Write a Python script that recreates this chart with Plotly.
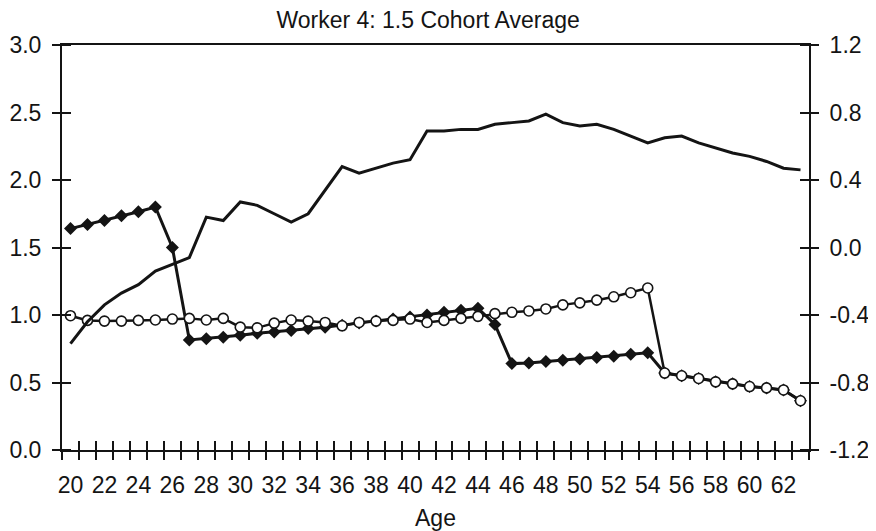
import plotly.graph_objects as go

ages = list(range(20, 64))
tick_ages = list(range(20, 63, 2))
tick_labels = [str(a) for a in tick_ages]
left_ticks = [0.0, 0.5, 1.0, 1.5, 2.0, 2.5, 3.0]
right_ticks = [-1.2, -0.8, -0.4, 0.0, 0.4, 0.8, 1.2]

# solid line (right axis)
solid = [-0.57, -0.44, -0.34, -0.27, -0.22, -0.14, -0.10, -0.06, 0.18, 0.16,
         0.27, 0.25, 0.20, 0.15, 0.20, 0.34, 0.48, 0.44, 0.47, 0.50,
         0.52, 0.69, 0.69, 0.70, 0.70, 0.73, 0.74, 0.75, 0.79, 0.74,
         0.72, 0.73, 0.70, 0.66, 0.62, 0.65, 0.66, 0.62, 0.59, 0.56,
         0.54, 0.51, 0.47, 0.46]

# open circles (left axis)
circles = [0.995, 0.96, 0.955, 0.955, 0.96, 0.963, 0.97, 0.975, 0.963, 0.975,
           0.91, 0.905, 0.94, 0.963, 0.955, 0.945, 0.92, 0.945, 0.955, 0.96,
           0.97, 0.945, 0.96, 0.975, 0.99, 1.01, 1.02, 1.03, 1.045, 1.075,
           1.09, 1.11, 1.135, 1.165, 1.20, 0.57, 0.55, 0.53, 0.505, 0.49,
           0.47, 0.46, 0.445, 0.365]

# filled diamonds (left axis)
diamonds = [1.64, 1.67, 1.70, 1.735, 1.765, 1.80, 1.50, 0.815, 0.825, 0.835,
            0.85, 0.865, 0.875, 0.885, 0.90, 0.91, 0.925, 0.94, 0.955, 0.97,
            0.985, 1.00, 1.02, 1.035, 1.05, 0.93, 0.64, 0.645, 0.655, 0.665,
            0.675, 0.685, 0.695, 0.71, 0.72, 0.57, 0.55, 0.53, 0.505, 0.49,
            0.47, 0.46, 0.445, 0.365]

INK = "#141414"
FONT = "Liberation Sans, Arial, sans-serif"
EPS = 1e-6
TICK_FONT = 23
half_ticks = [a - 0.5 for a in ages] + [ages[-1] + 0.5]

fig = go.Figure()
fig.add_trace(go.Scatter(x=ages, y=solid, mode="lines", xaxis="x2", yaxis="y2",
                         line=dict(color=INK, width=3), showlegend=False))
fig.add_trace(go.Scatter(x=ages, y=diamonds, mode="lines+markers",
                         line=dict(color=INK, width=3),
                         marker=dict(symbol="diamond", size=10, color=INK),
                         showlegend=False))
fig.add_trace(go.Scatter(x=ages, y=circles, mode="lines+markers",
                         line=dict(color=INK, width=2.5),
                         marker=dict(symbol="circle", size=10, color="white",
                                     line=dict(color=INK, width=1.6)),
                         showlegend=False))

xr = [ages[0] - 0.5, ages[-1] + 0.5]
# page body has an 8px default margin: figure is 868x523 so the page stays 876x531
fig.update_layout(
    width=868, height=523,
    margin=dict(l=54, r=67, t=37, b=81),
    paper_bgcolor="white", plot_bgcolor="white",
    font=dict(family=FONT, color=INK, size=TICK_FONT),
    title=dict(text="Worker 4: 1.5 Cohort Average", xref="container", x=0.484,
               xanchor="center", yref="container", y=0.978, yanchor="middle",
               font=dict(size=23, family=FONT, color=INK)),
    xaxis=dict(range=xr, tickmode="array", tickvals=tick_ages, ticktext=tick_labels,
               ticks="", showgrid=False, zeroline=False, showline=True,
               linecolor=INK, linewidth=2, mirror=True, ticklabelstandoff=13,
               automargin=False, tickfont=dict(size=TICK_FONT),
               minor=dict(tickmode="array", tickvals=half_ticks, ticks="outside",
                          ticklen=8, tickwidth=1.5, tickcolor=INK, showgrid=False),
               title=dict(text="Age", font=dict(size=TICK_FONT), standoff=14)),
    xaxis2=dict(range=xr, overlaying="x", anchor="y", side="bottom",
                tickmode="array", tickvals=half_ticks, ticks="inside",
                ticklen=9, tickwidth=1.5, tickcolor=INK, showticklabels=False,
                showgrid=False, zeroline=False, showline=False, automargin=False),
    yaxis=dict(range=[0, 3], tickmode="array", tickvals=left_ticks,
               ticktext=[f"{v:.1f}" for v in left_ticks],
               ticks="outside", ticklen=8, tickwidth=1.5, tickcolor=INK,
               showgrid=False, zeroline=False, showline=True, linecolor=INK,
               linewidth=2, tickfont=dict(size=TICK_FONT), ticklabelstandoff=6,
               automargin=False,
               minor=dict(tickmode="array", tickvals=[v + EPS for v in left_ticks],
                          ticks="inside", ticklen=9, tickwidth=1.5, tickcolor=INK,
                          showgrid=False)),
    yaxis2=dict(range=[-1.2, 1.2], overlaying="y", side="right", anchor="x",
                tickmode="array", tickvals=right_ticks,
                ticktext=[f"{v:.1f}" for v in right_ticks],
                ticks="outside", ticklen=8, tickwidth=1.5, tickcolor=INK,
                showgrid=False, zeroline=False, showline=True, linecolor=INK,
                linewidth=2, tickfont=dict(size=TICK_FONT), ticklabelstandoff=6,
                automargin=False,
                minor=dict(tickmode="array", tickvals=[v + EPS for v in right_ticks],
                           ticks="inside", ticklen=9, tickwidth=1.5, tickcolor=INK,
                           showgrid=False)),
)

fig.write_html("out.html")
